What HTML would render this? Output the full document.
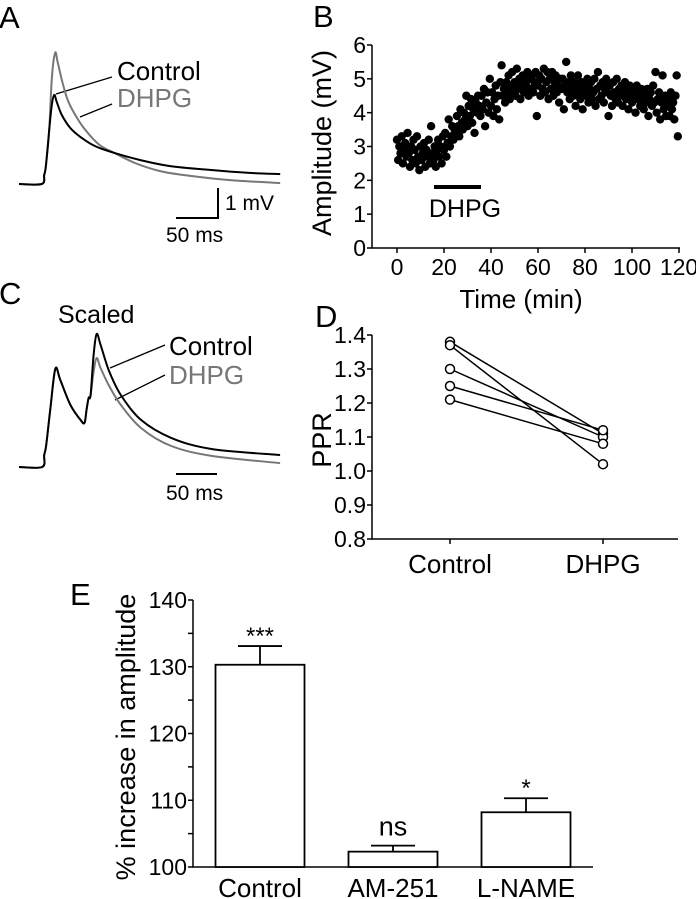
<!DOCTYPE html>
<html><head><meta charset="utf-8"><style>
html,body{margin:0;padding:0;background:#fff;}
svg{display:block;font-family:"Liberation Sans",Arial,sans-serif;}
</style></head><body>
<svg id="fig" width="696" height="899" viewBox="0 0 696 899" xmlns="http://www.w3.org/2000/svg">
<g id="pA">
<text x="-1" y="28" font-size="31">A</text>
<line x1="56" y1="94" x2="112" y2="77" stroke="#000" stroke-width="1.3"/>
<line x1="80" y1="117" x2="112" y2="104" stroke="#000" stroke-width="1.3"/>
<text x="117" y="80" font-size="26" fill="#000">Control</text>
<text x="117" y="107" font-size="26" fill="#777">DHPG</text>
<polyline points="218,188 218,218 176,218" fill="none" stroke="#000" stroke-width="2"/>
<text x="225" y="210" font-size="21">1 mV</text>
<text x="166" y="242" font-size="21">50 ms</text>
</g>
<g id="pC">
<text x="-1" y="304" font-size="31">C</text>
<text x="58" y="323" font-size="25">Scaled</text>
<line x1="110" y1="368" x2="165" y2="345" stroke="#000" stroke-width="1.3"/>
<line x1="115" y1="400" x2="165" y2="375" stroke="#000" stroke-width="1.3"/>
<text x="169" y="355" font-size="26">Control</text>
<text x="169" y="384" font-size="26" fill="#777">DHPG</text>
<line x1="176" y1="474" x2="217" y2="474" stroke="#000" stroke-width="2"/>
<text x="166" y="500" font-size="21">50 ms</text>
</g>
<g id="pB">
<text x="313" y="27" font-size="31">B</text>
<text transform="translate(331,143) rotate(-90)" text-anchor="middle" font-size="27">Amplitude (mV)</text>
<text x="521" y="308" text-anchor="middle" font-size="26">Time (min)</text>
<line x1="434" y1="187" x2="481" y2="187" stroke="#000" stroke-width="4"/>
<text x="465" y="217" text-anchor="middle" font-size="25">DHPG</text>
</g>
<g id="pD">
<text x="315" y="327" font-size="31">D</text>
<text transform="translate(331,440) rotate(-90)" text-anchor="middle" font-size="27">PPR</text>
</g>
<g id="pE">
<text x="70" y="605" font-size="31">E</text>
<text transform="translate(135,737) rotate(-90)" text-anchor="middle" font-size="27">% increase in amplitude</text>
</g>
</svg>
<script>
// Panel A traces (ms, mV)
const aGrayT=[0,27,30,32,36,39,43,46,51,58,67,79,96,114,138,168,204,251,311];
const aGrayV=[0,0,0.3,0.6,1.8,3.5,4.37,4.07,3.47,2.8,2.3,1.8,1.3,1.03,0.7,0.43,0.27,0.13,0.03];
const aBlackT=[0,27,30,32,36,39,42,45,51,61,73,90,114,144,179,227,274,311];
const aBlackV=[0,0,0.3,0.6,1.8,2.63,2.97,2.73,2.3,1.87,1.57,1.27,1.03,0.8,0.6,0.47,0.37,0.33];
// Panel C traces
const cBlackT=[0,27.6,30,32.4,37.2,43.2,49.2,61.2,73.2,78,80.4,82.8,85.2,88.8,92.4,97.2,106.8,121.2,145.2,181.2,229.2,310.8];
const cBlackV=[0,0,0.4,0.73,1.9,3.27,2.9,2.07,1.57,1.47,1.9,2.3,2.4,3.73,4.43,4.07,3.23,2.4,1.57,0.97,0.6,0.4];
const cGrayT=[0,27.6,30,32.4,37.2,43.2,49.2,61.2,73.2,78,80.4,82.8,85.2,88.8,92.4,97.2,106.8,121.2,145.2,181.2,229.2,310.8];
const cGrayV=[0,0,0.4,0.73,1.9,3.27,2.9,2.07,1.57,1.47,1.9,2.3,2.4,3.17,3.63,3.3,2.73,2.07,1.3,0.7,0.37,0.13];
// Panel B
const bTicksX=[0,20,40,60,80,100,120];
const bTicksY=[0,1,2,3,4,5,6];
const bAmp=[3.2,2.6,3.0,2.8,3.3,2.5,2.9,3.1,2.7,3.4,2.8,2.4,3.0,2.6,3.2,2.9,2.5,3.3,2.7,2.3,
3.0,2.6,2.8,3.1,2.4,2.9,2.7,3.2,2.5,3.6,2.8,2.6,3.0,2.4,2.9,3.2,2.7,3.0,2.5,3.3,
2.9,3.4,2.7,3.1,3.8,3.0,3.3,3.6,3.2,3.5,3.4,3.9,3.6,3.3,4.1,3.7,3.5,4.0,3.8,4.5,
3.6,4.2,3.9,4.4,3.7,4.1,3.4,4.3,4.0,4.5,4.2,3.9,4.5,4.1,4.7,3.6,4.3,4.6,4.0,5.0,
4.2,4.6,3.9,4.4,4.8,4.1,4.5,3.8,4.9,5.4,4.5,4.7,4.3,4.9,4.6,5.1,4.4,4.8,5.2,4.6,
4.9,4.5,5.3,4.7,5.0,4.4,4.8,5.1,4.6,5.0,4.8,5.2,4.5,5.0,4.7,5.1,4.6,4.9,5.2,3.9,
4.8,5.1,4.5,5.0,4.7,5.3,4.6,4.9,5.2,4.4,5.0,4.7,5.2,4.5,4.9,5.1,4.6,4.8,4.3,5.0,
4.7,5.0,4.1,4.8,5.5,4.6,4.9,4.4,5.1,4.7,4.5,4.9,4.2,4.8,5.1,4.6,4.4,4.9,4.1,4.7,
4.8,4.5,5.0,4.3,4.7,4.9,4.4,4.6,5.0,4.2,4.7,5.2,4.4,4.8,4.5,4.9,4.3,4.7,5.0,4.6,
3.9,4.8,4.5,4.2,4.9,4.6,4.4,5.0,4.3,4.7,4.5,4.8,4.2,4.6,4.9,4.4,4.7,4.1,4.8,4.5,
4.3,4.7,4.5,4.0,4.8,4.4,4.6,4.2,4.7,4.4,4.1,4.5,4.3,4.7,3.9,4.4,4.6,4.2,4.8,4.3,
5.2,4.0,4.4,4.6,3.8,4.3,5.1,4.1,4.5,3.9,4.2,4.4,3.9,4.6,4.1,4.3,3.8,4.5,5.1,3.3];
const bStep=0.5;
// Panel D
const dCats=["Control","DHPG"];
const dTicks=["0.8","0.9","1.0","1.1","1.2","1.3","1.4"];
const dControl=[1.38,1.37,1.30,1.25,1.21];
const dDhpg=[1.11,1.02,1.10,1.12,1.08];
// Panel E
const eCats=["Control","AM-251","L-NAME"];
const eMeans=[130.3,102.3,108.2];
const eErr=[2.8,0.9,2.1];
const eStars=["***","ns","*"];
const eTicks=[100,110,120,130,140];

const NS="http://www.w3.org/2000/svg";
function mk(parent,tag,attrs){const e=document.createElementNS(NS,tag);for(const k in attrs)e.setAttribute(k,attrs[k]);parent.appendChild(e);return e;}
const pA=document.getElementById('pA'),pB=document.getElementById('pB'),pC=document.getElementById('pC'),pD=document.getElementById('pD'),pE=document.getElementById('pE');

function trace(g,T,V,x0,y0,col,name){
  const sx=t=>x0+t*0.84, sy=v=>y0-v*30;
  let d='M'+sx(T[0]).toFixed(1)+','+sy(V[0]).toFixed(1);
  for(let i=1;i<T.length;i++){
    const p0=i>1?[sx(T[i-2]),sy(V[i-2])]:[sx(T[i-1]),sy(V[i-1])];
    const p1=[sx(T[i-1]),sy(V[i-1])],p2=[sx(T[i]),sy(V[i])];
    const p3=i<T.length-1?[sx(T[i+1]),sy(V[i+1])]:p2;
    const c1=[p1[0]+(p2[0]-p0[0])/6,p1[1]+(p2[1]-p0[1])/6];
    const c2=[p2[0]-(p3[0]-p1[0])/6,p2[1]-(p3[1]-p1[1])/6];
    d+=` C${c1[0].toFixed(1)},${c1[1].toFixed(1)} ${c2[0].toFixed(1)},${c2[1].toFixed(1)} ${p2[0].toFixed(1)},${p2[1].toFixed(1)}`;
  }
  const p=mk(g,'path',{d:d,fill:'none',stroke:col,'stroke-width':2,'stroke-linejoin':'round'});
  
  
}
trace(pA,aGrayT,aGrayV,19,184,'#777','dhpg-trace-a');
trace(pA,aBlackT,aBlackV,19,184,'#000','control-trace-a');
trace(pC,cGrayT,cGrayV,19,467,'#777','dhpg-trace-c');
trace(pC,cBlackT,cBlackV,19,467,'#000','control-trace-c');

// Panel B
{
const X=t=>397+t*(282/120), Y=v=>248-v*(203/6);
const ax=mk(pB,'polyline',{points:`372,45 372,248 680,248`,fill:'none',stroke:'#000','stroke-width':1.5});


bTicksY.forEach(v=>{mk(pB,'line',{x1:367,x2:372,y1:Y(v),y2:Y(v),stroke:'#000','stroke-width':1.5});
 const t=mk(pB,'text',{x:366,y:Y(v)+8,'text-anchor':'end','font-size':23});t.textContent=v;
 
 });
bTicksX.forEach(v=>{mk(pB,'line',{x1:X(v),x2:X(v),y1:248,y2:253,stroke:'#000','stroke-width':1.5});
 const t=mk(pB,'text',{x:X(v),y:275,'text-anchor':'middle','font-size':23});t.textContent=v;
 
 });
bAmp.forEach((a,i)=>{const c=mk(pB,'circle',{cx:X(i*bStep),cy:Y(a),r:4.2,fill:'#000'});
 
 });
}
// Panel D
{
const Y=v=>539-(v-0.8)*340, X=[450,603];
const ax=mk(pD,'polyline',{points:`372,335 372,539 678,539`,fill:'none',stroke:'#000','stroke-width':1.5});


dTicks.forEach(s=>{const v=parseFloat(s);mk(pD,'line',{x1:367,x2:372,y1:Y(v),y2:Y(v),stroke:'#000','stroke-width':1.5});
 const t=mk(pD,'text',{x:366,y:Y(v)+8,'text-anchor':'end','font-size':23});t.textContent=s;
 
 });
dCats.forEach((c,i)=>{mk(pD,'line',{x1:X[i],x2:X[i],y1:539,y2:544,stroke:'#000','stroke-width':1.5});
 const t=mk(pD,'text',{x:X[i],y:573,'text-anchor':'middle','font-size':26});t.textContent=c;
 
 });
dControl.forEach((v,i)=>{const l=mk(pD,'line',{x1:X[0],y1:Y(v),x2:X[1],y2:Y(dDhpg[i]),stroke:'#000','stroke-width':1.5});
 
 });
dControl.forEach((v,i)=>{[v,dDhpg[i]].forEach((w,j)=>{const c=mk(pD,'circle',{cx:X[j],cy:Y(w),r:4.5,fill:'#fff',stroke:'#000','stroke-width':1.5});
 
 });});
}
// Panel E
{
const Y=v=>867-(v-100)*(267/40), X=[260,393,526], W=89;
const ax=mk(pE,'polyline',{points:`193,600 193,867 593,867`,fill:'none',stroke:'#000','stroke-width':1.5});


for(let v=100;v<=140;v+=5){mk(pE,'line',{x1:188,x2:193,y1:Y(v),y2:Y(v),stroke:'#000','stroke-width':1.5});}
eTicks.forEach(v=>{const t=mk(pE,'text',{x:187,y:Y(v)+8,'text-anchor':'end','font-size':23});t.textContent=v;
 
 });
eCats.forEach((c,i)=>{
 const b=mk(pE,'rect',{x:X[i]-W/2,y:Y(eMeans[i]),width:W,height:867-Y(eMeans[i]),fill:'#fff',stroke:'#000','stroke-width':1.8});
 
 
 const top=Y(eMeans[i]+eErr[i]);
 mk(pE,'line',{x1:X[i],x2:X[i],y1:Y(eMeans[i]),y2:top,stroke:'#000','stroke-width':1.8});
 const cap=mk(pE,'line',{x1:X[i]-22,x2:X[i]+22,y1:top,y2:top,stroke:'#000','stroke-width':1.8});
 
 
 const isNs=eStars[i]==='ns';
 const s=mk(pE,'text',{x:X[i],y:top-(isNs?10:2),'text-anchor':'middle','font-size':isNs?27:24});s.textContent=eStars[i];
 
 
 const t=mk(pE,'text',{x:X[i],y:897,'text-anchor':'middle','font-size':26});t.textContent=c;
 
 
});
}
</script>
</body></html>
